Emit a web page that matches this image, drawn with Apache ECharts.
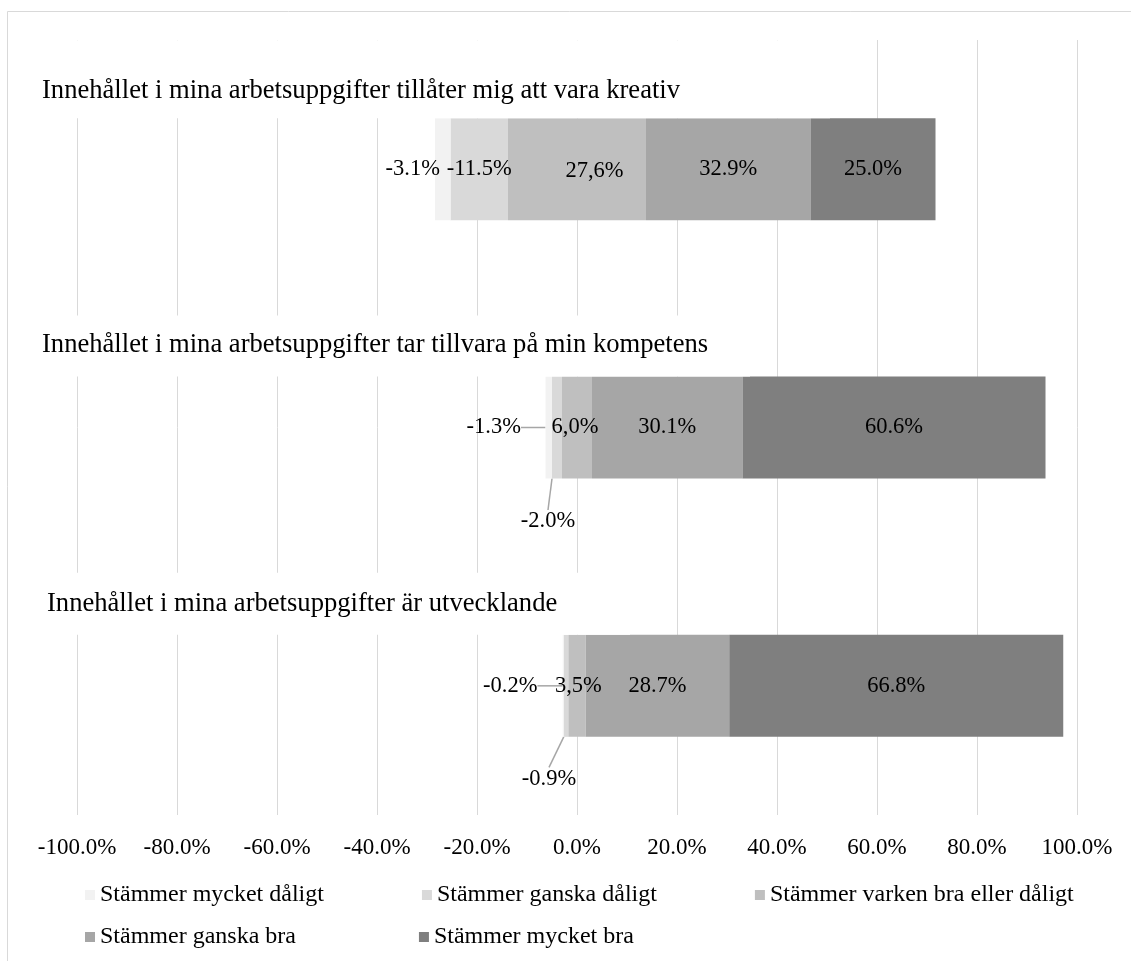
<!DOCTYPE html>
<html>
<head>
<meta charset="utf-8">
<script src="https://cdn.jsdelivr.net/npm/echarts@6/dist/echarts.min.js"></script>
<style>
  html, body { margin: 0; padding: 0; background: #fff; }
  #chart { width: 1131px; height: 961px; }
</style>
</head>
<body>
<div id="chart"></div>
<script>
// Survey statements (one bar per statement, top to bottom)
const categories = [
  'Innehållet i mina arbetsuppgifter tillåter mig att vara kreativ',
  'Innehållet i mina arbetsuppgifter tar tillvara på min kompetens',
  'Innehållet i mina arbetsuppgifter är utvecklande'
];

// Answer categories
const seriesNames = [
  'Stämmer mycket dåligt',
  'Stämmer ganska dåligt',
  'Stämmer varken bra eller dåligt',
  'Stämmer ganska bra',
  'Stämmer mycket bra'
];

// Shares in percent (negative side = disagreement)
const mycketDaligt = [-3.1, -1.3, -0.2];
const ganskaDaligt = [-11.5, -2.0, -0.9];
const varken = [27.6, 6.0, 3.5];
const ganskaBra = [32.9, 30.1, 28.7];
const mycketBra = [25.0, 60.6, 66.8];

// Value axis ticks
const tickValues = [-100, -80, -60, -40, -20, 0, 20, 40, 60, 80, 100];

// ---- styling / layout ----
const colors = ['#f2f2f2', '#d9d9d9', '#bfbfbf', '#a6a6a6', '#7f7f7f'];
const FONT = 'Liberation Serif';
const TEXT = '#000';
const BAR_W = 102;

// label nudges [dx, dy] and leader-line flags per bar
const nudgeMycketDaligt = [[-30, 0], [-55, 0], [-53, 0]];
const lineMycketDaligt = [false, true, true];
const nudgeGanskaDaligt = [[0, 0], [-9, 94], [-17, 93]];
const lineGanskaDaligt = [false, true, true];
const nudgeVarken = [[-17, 2], [-9.5, 0], [-3, 0]];

// statement headings: [x, dy from bar centre]; white panels behind them
const headingPos = [[42, -78], [42, -82], [47, -82]];
const headingPanel = [
  { x0: 30, x1: 830, top: -129 },
  { x0: 30, x1: 750, top: -112 },
  { x0: 30, x1: 630, top: -113 }
];

const pct = v => v.toFixed(1) + '%';

function items(values, nudges, lines) {
  return values.map((v, i) => ({
    value: v,
    label: { offset: nudges ? nudges[i] : [0, 0] },
    labelLine: { show: lines ? lines[i] : false }
  }));
}

const labelBase = {
  show: true,
  position: 'inside',
  color: TEXT,
  fontFamily: FONT,
  fontSize: 22.5,
  textBorderWidth: 0
};

function barSeries(name, color, data, label) {
  return {
    name: name,
    type: 'bar',
    stack: 'total',
    barWidth: BAR_W,
    itemStyle: { color: color },
    emphasis: { disabled: true },
    label: Object.assign({}, labelBase, label || {}),
    labelLine: { show: false, lineStyle: { color: '#a6a6a6', width: 1.5 } },
    data: data
  };
}

const series = [
  // neutral answers split evenly across zero (negative half first = nearest zero)
  barSeries(seriesNames[2], colors[2], varken.map(v => -v / 2), { show: false }),
  barSeries(seriesNames[1], colors[1], items(ganskaDaligt, nudgeGanskaDaligt, lineGanskaDaligt),
    { formatter: p => pct(p.value) }),
  barSeries(seriesNames[0], colors[0], items(mycketDaligt, nudgeMycketDaligt, lineMycketDaligt),
    { formatter: p => pct(p.value) }),
  barSeries(seriesNames[2], colors[2], items(varken.map(v => v / 2), nudgeVarken, null),
    { formatter: p => varken[p.dataIndex].toFixed(1).replace('.', ',') + '%' }),
  barSeries(seriesNames[3], colors[3], items(ganskaBra), { formatter: p => pct(p.value) }),
  barSeries(seriesNames[4], colors[4], items(mycketBra), { formatter: p => pct(p.value) })
];

const legendBase = {
  orient: 'horizontal',
  icon: 'rect',
  itemWidth: 10,
  itemHeight: 10,
  padding: 0,
  selectedMode: false,
  textStyle: { fontFamily: FONT, fontSize: 24, color: TEXT }
};

const chart = echarts.init(document.getElementById('chart'), null, { renderer: 'canvas' });

chart.setOption({
  animation: false,
  backgroundColor: '#fff',
  grid: { left: 77, right: 54, top: 40, height: 775, containLabel: false },
  xAxis: {
    type: 'value',
    min: tickValues[0],
    max: tickValues[tickValues.length - 1],
    interval: tickValues[1] - tickValues[0],
    axisLine: { show: false },
    axisTick: { show: false },
    splitLine: { show: true, lineStyle: { color: '#d9d9d9', width: 1 } },
    axisLabel: {
      margin: 21,
      fontFamily: FONT,
      fontSize: 23,
      color: TEXT,
      formatter: v => pct(v)
    }
  },
  yAxis: {
    type: 'category',
    inverse: true,
    data: categories,
    axisLine: { show: false },
    axisTick: { show: false },
    axisLabel: { show: false },
    splitLine: { show: false }
  },
  legend: [
    Object.assign({}, legendBase, { left: 85, top: 883, itemGap: 98, data: seriesNames.slice(0, 3) }),
    Object.assign({}, legendBase, { left: 85, top: 925, itemGap: 123, data: seriesNames.slice(3) })
  ],
  series: series
});

// frame, plus headings above each bar placed from the category axis positions
const graphics = [{
  type: 'rect',
  z: -10,
  silent: true,
  shape: { x: 7.5, y: 11.5, width: 2000, height: 2000 },
  style: { fill: 'none', stroke: '#d9d9d9', lineWidth: 1 }
}];
categories.forEach((cat, i) => {
  const cy = chart.convertToPixel({ yAxisIndex: 0 }, cat);
  const p = headingPanel[i];
  const top = cy + p.top;
  const bottom = cy - BAR_W / 2;
  graphics.push({
    type: 'rect',
    z: 10,
    silent: true,
    shape: { x: p.x0, y: top, width: p.x1 - p.x0, height: bottom - top },
    style: { fill: '#fff' }
  });
  graphics.push({
    type: 'text',
    z: 11,
    silent: true,
    x: headingPos[i][0],
    y: cy + headingPos[i][1],
    style: {
      text: cat,
      fill: TEXT,
      font: '26.6px "' + FONT + '"',
      textAlign: 'left',
      textVerticalAlign: 'middle',
      verticalAlign: 'middle'
    }
  });
});
chart.setOption({ graphic: graphics });
</script>
</body>
</html>
